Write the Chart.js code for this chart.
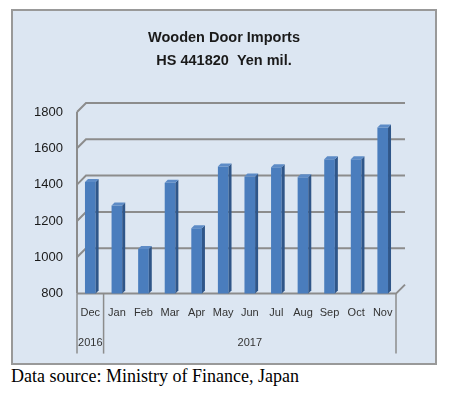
<!DOCTYPE html>
<html>
<head>
<meta charset="utf-8">
<script src="https://cdn.jsdelivr.net/npm/chart.js@4"></script>
<style>
  body { margin: 0; background: #fff; }
  #panel { position: absolute; left: 11px; top: 9px; width: 422px; height: 352px;
           background: #dce6f2; border: 2px solid #999; }
  #caption { position: absolute; left: 11px; top: 366px; font: 18px "Liberation Serif", serif; color: #000; }
</style>
</head>
<body>
<div id="panel"><canvas id="myChart" width="422" height="352"></canvas></div>
<div id="caption">Data source: Ministry of Finance, Japan</div>
<script>
var months = ['Dec', 'Jan', 'Feb', 'Mar', 'Apr', 'May', 'Jun', 'Jul', 'Aug', 'Sep', 'Oct', 'Nov'];
var years = ['2016', '', '', '', '', '', '2017', '', '', '', '', ''];
var imports = [1415, 1285, 1045, 1410, 1160, 1500, 1445, 1495, 1440, 1540, 1540, 1715];
var yTicks = [800, 1000, 1200, 1400, 1600, 1800];

var depth = 9;

// back wall gridlines with a slanted left edge, like the old 3D column look
var wallPlugin = {
    id: 'wall',
    beforeDatasetsDraw: function (chart) {
        var c = chart.ctx, a = chart.chartArea, y = chart.scales.y, x = chart.scales.x;
        c.save();
        c.strokeStyle = '#8c8c8c';
        c.lineWidth = 2;
        yTicks.forEach(function (v) {
            var py = y.getPixelForValue(v);
            c.beginPath();
            if (v === yTicks[0]) {
                c.moveTo(a.left, py);
                c.lineTo(a.right, py);
                c.lineTo(a.right + depth, py - depth);
            } else {
                c.moveTo(a.left, py);
                c.lineTo(a.left + depth, py - depth);
                c.lineTo(a.right + depth, py - depth);
            }
            c.stroke();
        });
        c.beginPath();
        c.moveTo(a.left, y.getPixelForValue(1800));
        c.lineTo(a.left, a.bottom);
        c.stroke();
        // category dividers under the axis
        c.lineWidth = 1.5;
        var xs = [a.left, (x.getPixelForValue(0) + x.getPixelForValue(1)) / 2, a.right];
        xs.forEach(function (px) {
            c.beginPath();
            c.moveTo(px, a.bottom);
            c.lineTo(px, a.bottom + 60);
            c.stroke();
        });
        c.restore();
    }
};

// side and top faces of each bar
var bar3dPlugin = {
    id: 'bar3d',
    afterDatasetsDraw: function (chart) {
        var c = chart.ctx, d = 3, bottom = chart.chartArea.bottom;
        chart.getDatasetMeta(0).data.forEach(function (b) {
            var l = b.x - b.width / 2, r = b.x + b.width / 2;
            var base = Math.min(b.base, bottom);
            c.fillStyle = '#2f5689';
            c.beginPath();
            c.moveTo(r, b.y); c.lineTo(r + d, b.y - d); c.lineTo(r + d, base - d); c.lineTo(r, base);
            c.closePath(); c.fill();
            c.fillStyle = '#5d8bc6';
            c.beginPath();
            c.moveTo(l, b.y); c.lineTo(l + d, b.y - d); c.lineTo(r + d, b.y - d); c.lineTo(r, b.y);
            c.closePath(); c.fill();
        });
    }
};

var ctx = document.getElementById('myChart').getContext('2d');
var myChart = new Chart(ctx, {
    type: 'bar',
    data: {
        labels: months.map(function (m, i) { return [m, years[i]]; }),
        datasets: [{
            data: imports,
            backgroundColor: '#4a7dbd',
            borderWidth: 0,
            categoryPercentage: 1,
            barPercentage: 0.4
        }]
    },
    plugins: [wallPlugin, bar3dPlugin],
    options: {
        responsive: false,
        animation: false,
        layout: { padding: { left: 0, right: 0, top: 0, bottom: 8 } },
        scales: {
            x: {
                grid: { display: false },
                border: { display: false },
                ticks: {
                    color: '#333',
                    font: { family: 'Liberation Sans', size: 11, lineHeight: 2.7 },
                    maxRotation: 0,
                    autoSkip: false,
                    padding: -3
                }
            },
            y: {
                min: 800,
                max: 1800,
                afterFit: function (s) { s.width = 64; },
                grid: { display: false, drawTicks: false },
                border: { display: false },
                ticks: {
                    stepSize: 200,
                    color: '#1a1a1a',
                    font: { family: 'Liberation Sans', size: 13 },
                    padding: 14,
                    callback: function (v) { return String(v); }
                }
            },
            // empty right strip, keeps the title centred on the whole panel
            y2: {
                position: 'right',
                min: 800,
                max: 1800,
                afterFit: function (s) { s.width = 39; },
                grid: { display: false, drawTicks: false },
                border: { display: false },
                ticks: { display: false }
            }
        },
        plugins: {
            legend: { display: false },
            tooltip: { enabled: false },
            title: {
                display: true,
                text: ['Wooden Door Imports', 'HS 441820  Yen mil.'],
                color: '#1a1a1a',
                font: { family: 'Liberation Sans', size: 14.5, weight: 'bold', lineHeight: 1.55 },
                padding: { top: 16, bottom: 40 }
            }
        }
    }
});
</script>
</body>
</html>
